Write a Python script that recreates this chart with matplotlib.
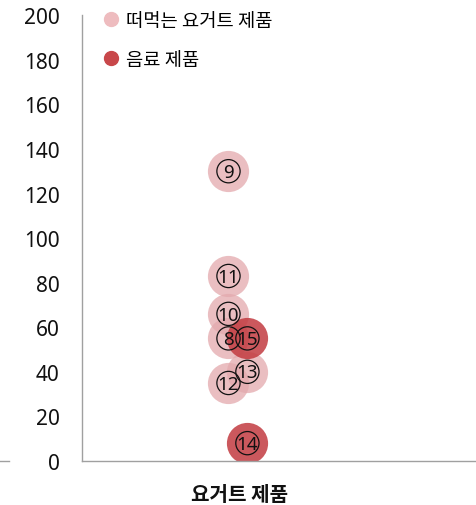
import matplotlib
matplotlib.use("Agg")
import matplotlib.pyplot as plt
from matplotlib.lines import Line2D

plt.rcParams['font.family'] = ['Noto Sans CJK KR', 'DejaVu Sans']

# data
category = "요거트 제품"
spoon_ids = ["9", "11", "10", "8", "12", "13"]
spoon_vals = [130, 83, 66, 55, 35, 40]
spoon_x = [0.93, 0.93, 0.93, 0.93, 0.93, 1.05]

drink_ids = ["15", "14"]
drink_vals = [55, 8]
drink_x = [1.05, 1.05]

y_ticks = [0, 20, 40, 60, 80, 100, 120, 140, 160, 180, 200]

light = "#e3a9ad"
dark = "#c23b40"

fig = plt.figure(figsize=(4.76, 5.06), dpi=100)
ax = fig.add_axes([0.172, 0.087, 0.828, 0.881])

ax.scatter(spoon_x, spoon_vals, s=880, color=light, alpha=0.75, linewidths=0, zorder=2)
ax.scatter(drink_x, drink_vals, s=880, color=dark, alpha=0.85, linewidths=0, zorder=2)

all_x = spoon_x + drink_x
all_y = spoon_vals + drink_vals
all_ids = spoon_ids + drink_ids
ax.scatter(all_x, all_y, s=280, facecolors="none", edgecolors="#111111", linewidths=0.9, zorder=3)
for xx, yy, t in zip(all_x, all_y, all_ids):
    ax.text(xx, yy - 0.3, t, ha="center", va="center", fontsize=13.5, color="#111111",
            family=["Liberation Sans Narrow", "Noto Sans"], zorder=4)

ax.set_xlim(0, 2.5)
ax.set_ylim(0, 200)
ax.set_yticks(y_ticks)
ax.set_yticklabels([str(v) for v in y_ticks], family=["Noto Sans", "DejaVu Sans"])
ax.set_xticks([1])
ax.set_xticklabels([category], fontsize=14.5, fontweight="bold")
ax.tick_params(axis="y", length=0, labelsize=15, colors="#111111", pad=16)
ax.tick_params(axis="x", length=0, colors="#111111", pad=16)
for sp in ["top", "right"]:
    ax.spines[sp].set_visible(False)
for sp in ["left", "bottom"]:
    ax.spines[sp].set_color("#a0a0a0")
    ax.spines[sp].set_linewidth(1)

handles = [
    Line2D([], [], marker="o", linestyle="none", markersize=10, color="#eebcbf"),
    Line2D([], [], marker="o", linestyle="none", markersize=10, color="#c8474a"),
]
fig.legend(handles, ["떠먹는 요거트 제품", "음료 제품"], loc="upper left",
           bbox_to_anchor=(0.178, 1.012), frameon=False, fontsize=13.5,
           handletextpad=0.3, labelspacing=0.95, handlelength=1.0)

fig.add_artist(Line2D([0, 0.018], [0.087, 0.087], color="#a0a0a0", linewidth=1))

fig.savefig("out.png", dpi=100)
